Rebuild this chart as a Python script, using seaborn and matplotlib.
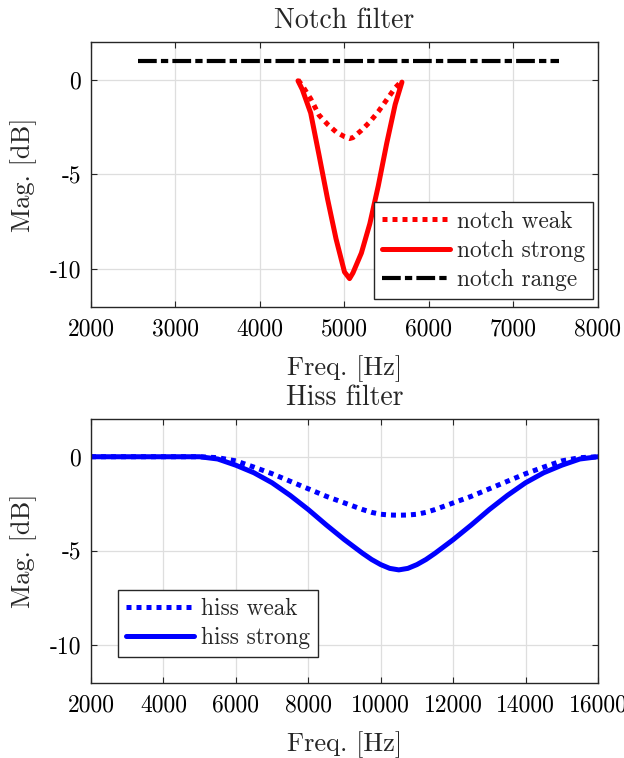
import numpy as np
import pandas as pd
import matplotlib.pyplot as plt
import seaborn as sns

# ── données ────────────────────────────────────────────────────────
notch_freq   = [4450, 4500, 4600, 4700, 4800, 4900, 5000, 5060, 5100,
                5200, 5300, 5400, 5500, 5600, 5680]
notch_weak   = [0.0, -0.3, -1.0, -1.87, -2.35, -2.75, -3.0, -3.1, -3.05,
                -2.67, -2.22, -1.68, -1.05, -0.42, -0.05]
notch_strong = [-0.05, -0.5, -1.75, -4.0, -6.3, -8.4, -10.15, -10.5, -10.2,
                -9.15, -7.6, -5.6, -3.35, -1.3, -0.12]
range_freq   = [2560, 7540]
range_mag    = [1.0, 1.0]

hiss_freq   = [2000, 4000, 5000, 5500, 6000, 6500, 7000, 7500, 8000, 8500,
               9000, 9500, 9750, 10000, 10250, 10500, 10750, 11000, 11250,
               11500, 12000, 12500, 13000, 13500, 14000, 14500, 15000,
               15500, 16000]
hiss_weak   = [0, 0, 0, -0.05, -0.22, -0.55, -0.9, -1.3, -1.7, -2.1,
               -2.45, -2.8, -2.95, -3.05, -3.09, -3.1, -3.09, -3.05, -2.95,
               -2.8, -2.45, -2.1, -1.7, -1.3, -0.9, -0.55, -0.22,
               -0.05, 0]
hiss_strong = [0, 0, 0, -0.12, -0.45, -0.85, -1.38, -2.05, -2.8, -3.62,
               -4.4, -5.12, -5.45, -5.72, -5.92, -6.0, -5.92, -5.72, -5.45,
               -5.12, -4.4, -3.62, -2.8, -2.05, -1.38, -0.85, -0.45,
               -0.12, 0]

notch_ticks = [2000, 3000, 4000, 5000, 6000, 7000, 8000]
hiss_ticks  = [2000, 4000, 6000, 8000, 10000, 12000, 14000, 16000]
mag_ticks   = [-10, -5, 0]

# ── style ──────────────────────────────────────────────────────────
sns.set_style('whitegrid')
plt.rcParams.update({
    'font.family': 'cmr10',
    'axes.unicode_minus': False,
    'axes.edgecolor': '#262626',
    'axes.linewidth': 1.0,
    'grid.color': '#dedede',
    'grid.linewidth': 0.9,
    'xtick.bottom': True, 'xtick.top': True,
    'ytick.left': True, 'ytick.right': True,
    'xtick.direction': 'in', 'ytick.direction': 'in',
    'xtick.major.size': 4, 'ytick.major.size': 4,
    'xtick.major.pad': 8.5, 'ytick.major.pad': 7,
    'xtick.color': '#262626', 'ytick.color': '#262626',
    'xtick.labelcolor': 'black', 'ytick.labelcolor': 'black',
    'xtick.labelsize': 17, 'ytick.labelsize': 17,
})

fig = plt.figure(figsize=(6.24, 7.58), dpi=100)
ax1 = fig.add_axes([0.1458, 0.595, 0.8125, 0.3496])
ax2 = fig.add_axes([0.1458, 0.0989, 0.8125, 0.3483])

LW = 3.6
dotted  = (0, (1, 1))
dashdot = (0, (4.5, 1, 1.75, 1))

# ── 1. NOTCH ──────────────────────────────────────────────────────
sns.lineplot(x=notch_freq, y=notch_weak, color='red', linewidth=LW,
             linestyle=dotted, label='notch weak', ax=ax1, errorbar=None)
sns.lineplot(x=notch_freq, y=notch_strong, color='red', linewidth=LW,
             label='notch strong', ax=ax1, errorbar=None)
sns.lineplot(x=range_freq, y=range_mag, color='black', linewidth=3.0,
             linestyle=dashdot, label='notch range', ax=ax1, errorbar=None)

ax1.set_xlim(2000, 8000)
ax1.set_xticks(notch_ticks)

# ── 2. HISS ───────────────────────────────────────────────────────
sns.lineplot(x=hiss_freq, y=hiss_weak, color='blue', linewidth=LW,
             linestyle=dotted, label='hiss weak', ax=ax2, errorbar=None)
sns.lineplot(x=hiss_freq, y=hiss_strong, color='blue', linewidth=LW,
             label='hiss strong', ax=ax2, errorbar=None)

ax2.set_xlim(2000, 16000)
ax2.set_xticks(hiss_ticks)

for ax, title in [(ax1, 'Notch filter'), (ax2, 'Hiss filter')]:
    ax.set_ylim(-12, 2)
    ax.set_yticks(mag_ticks)
    ax.set_xlabel('Freq. [Hz]', fontsize=19, labelpad=10)
    ax.set_ylabel('Mag. [dB]', fontsize=19, labelpad=9)
    ax.set_title(title, fontsize=20, pad=10)
    for s in ax.spines.values():
        s.set_visible(True)
        s.set_color('#262626')

leg_kw = dict(frameon=True, fancybox=False, framealpha=1, edgecolor='#262626',
              fontsize=16.8, handlelength=2.9, handletextpad=0.3,
              labelspacing=0.3, borderpad=0.35, borderaxespad=0)
l1 = ax1.legend(loc='lower right', bbox_to_anchor=(0.99, 0.03), **leg_kw)
l2 = ax2.legend(loc='lower left', bbox_to_anchor=(0.053, 0.098), **leg_kw)
for l in (l1, l2):
    l.get_frame().set_linewidth(1.0)

plt.savefig('out.png', dpi=100)
print("Figure sauvegardée !")
